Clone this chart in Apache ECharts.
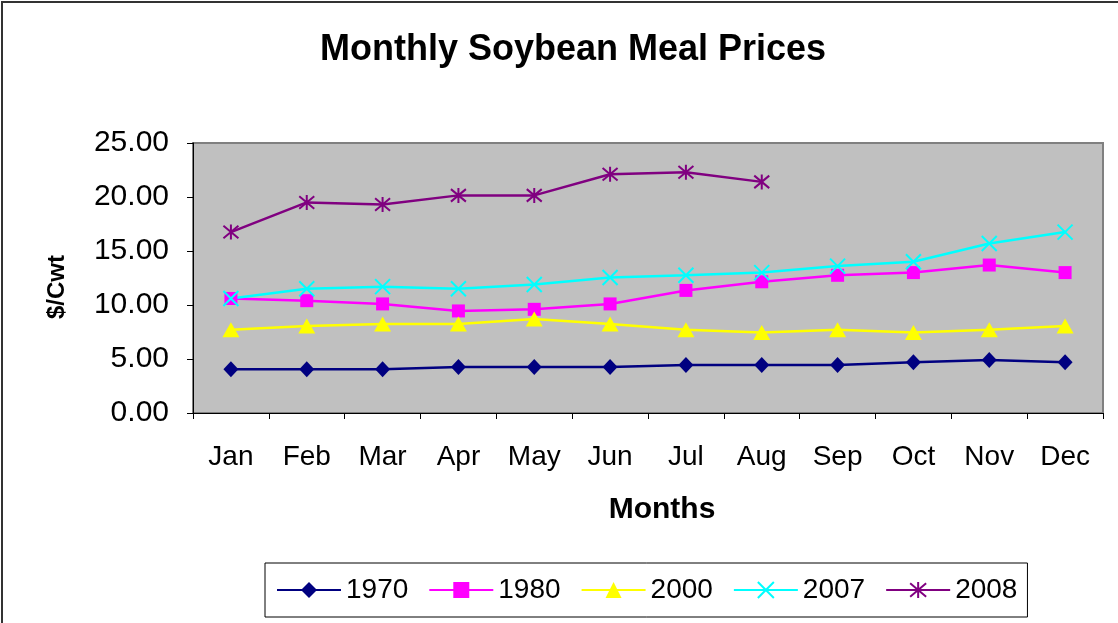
<!DOCTYPE html>
<html>
<head>
<meta charset="utf-8">
<title>Monthly Soybean Meal Prices</title>
<script src="https://cdn.jsdelivr.net/npm/echarts@6/dist/echarts.min.js"></script>
<style>
  html, body { margin: 0; padding: 0; background: #fff; }
  #chart { position: absolute; left: 0; top: 0; width: 1118px; height: 623px; }
  #frame { position: absolute; left: 1px; top: 1px; width: 1117px; height: 622px;
           border-top: 2px solid #333; border-left: 2px solid #333; pointer-events: none; }
</style>
</head>
<body>
<div id="chart"></div>
<div id="frame"></div>
<script>
const months = ['Jan', 'Feb', 'Mar', 'Apr', 'May', 'Jun', 'Jul', 'Aug', 'Sep', 'Oct', 'Nov', 'Dec']
const yTicks = [0, 5, 10, 15, 20, 25]

const y1970 = [4.05, 4.05, 4.05, 4.25, 4.25, 4.25, 4.45, 4.45, 4.45, 4.7, 4.9, 4.7]
const y1980 = [10.6, 10.4, 10.1, 9.45, 9.6, 10.1, 11.35, 12.15, 12.75, 13.0, 13.7, 13.0]
const y2000 = [7.7, 8.05, 8.25, 8.25, 8.7, 8.25, 7.7, 7.45, 7.7, 7.45, 7.7, 8.05]
const y2007 = [10.6, 11.5, 11.7, 11.5, 11.9, 12.55, 12.75, 13.0, 13.6, 14.0, 15.7, 16.75]
const y2008 = [16.75, 19.5, 19.3, 20.15, 20.15, 22.1, 22.3, 21.4]

const font = "'Liberation Sans', Arial, sans-serif"
const xMark = 'path://M0,0L10,10M10,0L0,10'
const starMark = 'path://M0,0L10,10M10,0L0,10M5,-1L5,11'

function lineSeries(name, data, color, symbol, size, stroked) {
  return {
    name: name,
    type: 'line',
    data: data,
    symbol: symbol,
    symbolSize: size,
    showAllSymbol: true,
    lineStyle: { color: color, width: 2.5 },
    itemStyle: stroked
      ? { color: color, borderColor: color, borderWidth: 2 }
      : { color: color, borderWidth: 0 },
    emphasis: { disabled: true }
  }
}

const chart = echarts.init(document.getElementById('chart'))

chart.setOption({
  animation: false,
  textStyle: { fontFamily: font, color: '#000' },
  title: {
    text: 'Monthly Soybean Meal Prices',
    left: 568,
    textAlign: 'center',
    top: 27,
    textStyle: { fontFamily: font, fontSize: 36, fontWeight: 'bold', color: '#000' }
  },
  grid: {
    left: 193, right: 15, top: 143, bottom: 210,
    show: true,
    backgroundColor: '#c0c0c0',
    borderColor: '#808080',
    borderWidth: 2
  },
  xAxis: {
    type: 'category',
    data: months,
    boundaryGap: true,
    name: 'Months',
    nameLocation: 'middle',
    nameGap: 82,
    nameTextStyle: { fontFamily: font, fontSize: 30, fontWeight: 'bold', color: '#000', padding: [0, 0, 0, 28] },
    axisLine: { lineStyle: { color: '#000', width: 1 } },
    axisTick: { show: true, interval: 0, length: 6, lineStyle: { color: '#000' } },
    axisLabel: { fontFamily: font, fontSize: 28, color: '#000', margin: 30, interval: 0 },
    splitLine: { show: false }
  },
  yAxis: {
    type: 'value',
    min: yTicks[0],
    max: yTicks[yTicks.length - 1],
    interval: 5,
    name: '$/Cwt',
    nameLocation: 'middle',
    nameGap: 124,
    nameRotate: 90,
    nameTextStyle: { fontFamily: font, fontSize: 24, fontWeight: 'bold', color: '#000', padding: [0, 18, 0, 0] },
    axisLine: { show: true, lineStyle: { color: '#000', width: 1 } },
    axisTick: { show: true, length: 6, lineStyle: { color: '#000' } },
    axisLabel: {
      fontFamily: font, fontSize: 30, color: '#000', margin: 24,
      formatter: v => v.toFixed(2)
    },
    splitLine: { show: false }
  },
  legend: {
    left: 265,
    top: 563,
    orient: 'horizontal',
    borderColor: '#000',
    borderWidth: 1,
    padding: [13, 10, 13, 11],
    itemWidth: 64,
    itemHeight: 20,
    itemGap: 20,
    textStyle: { fontFamily: font, fontSize: 28, color: '#000' },
    data: ['1970', '1980', '2000', '2007', '2008']
  },
  series: [
    lineSeries('1970', y1970, '#000080', 'diamond', [15, 16], false),
    lineSeries('1980', y1980, '#ff00ff', 'rect', 13, false),
    lineSeries('2000', y2000, '#ffff00', 'triangle', [17, 15], false),
    lineSeries('2007', y2007, '#00ffff', xMark, 15, true),
    lineSeries('2008', y2008, '#800080', starMark, 15, true)
  ]
})
</script>
</body>
</html>
